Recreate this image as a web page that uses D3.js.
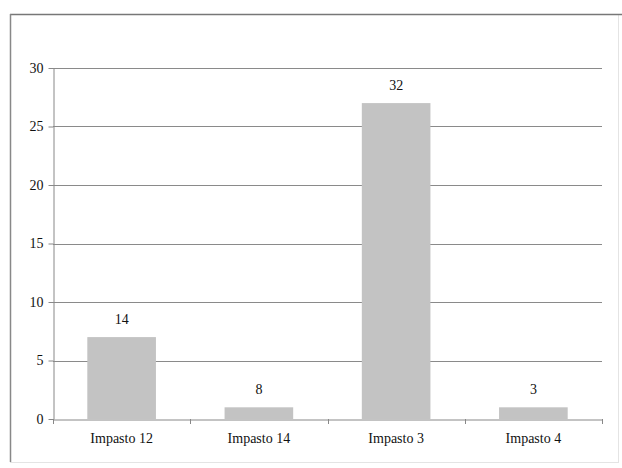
<!DOCTYPE html>
<html>
<head>
<meta charset="utf-8">
<script src="https://cdn.jsdelivr.net/npm/d3@7"></script>
<style>
  body { margin: 0; background: #fff; }
  text { font-family: "Liberation Serif", "Times New Roman", serif; fill: #111; }
</style>
</head>
<body>
<div id="chart"></div>
<script>
var categories = ["Impasto 12", "Impasto 14", "Impasto 3", "Impasto 4"];
var barValues = [7, 1, 27, 1];
var barLabels = ["14", "8", "32", "3"];
var yTicks = [0, 5, 10, 15, 20, 25, 30];

var W = 622, H = 468;
var margin = {top: 68, right: 20, bottom: 50, left: 53},
    width = 602 - margin.left,
    height = 419 - margin.top;

var root = d3.select("#chart")
  .append("svg")
    .attr("width", W)
    .attr("height", H);

// outer frame
root.append("rect")
  .attr("x", 10.5).attr("y", 14.5)
  .attr("width", 608).attr("height", 448)
  .attr("fill", "none").attr("stroke", "#e4e4e4");
root.append("line")
  .attr("x1", 10).attr("x2", W).attr("y1", 14.5).attr("y2", 14.5)
  .attr("stroke", "#777").attr("stroke-width", 1.5);
root.append("line")
  .attr("x1", 10.5).attr("x2", 10.5).attr("y1", 14).attr("y2", 462)
  .attr("stroke", "#888").attr("stroke-width", 1.5);

var svg = root.append("g")
  .attr("transform", "translate(" + margin.left + "," + margin.top + ")");

var x = d3.scaleBand()
  .domain(categories)
  .range([0, width])
  .paddingInner(0.5)
  .paddingOuter(0.25);

var y = d3.scaleLinear()
  .domain([0, 30])
  .range([height, 0]);

// gridlines
svg.append("g")
  .selectAll("line")
  .data(yTicks.filter(function(d) { return d > 0; }))
  .enter()
  .append("line")
    .attr("x1", 0).attr("x2", width)
    .attr("y1", function(d) { return Math.round(y(d)) + 0.5; })
    .attr("y2", function(d) { return Math.round(y(d)) + 0.5; })
    .attr("stroke", "#8a8a8a");

// bars
svg.append("g")
  .selectAll("rect")
  .data(barValues)
  .enter()
  .append("rect")
    .attr("x", function(d, i) { return x(categories[i]); })
    .attr("y", function(d) { return y(d); })
    .attr("width", x.bandwidth())
    .attr("height", function(d) { return height - y(d); })
    .attr("fill", "#c3c3c3");

// value labels
svg.append("g")
  .selectAll("text")
  .data(barValues)
  .enter()
  .append("text")
    .attr("x", function(d, i) { return x(categories[i]) + x.bandwidth() / 2; })
    .attr("y", function(d) { return y(d) - 13; })
    .attr("text-anchor", "middle")
    .style("font-size", "14px")
    .text(function(d, i) { return barLabels[i]; });

// y axis
var yAxis = svg.append("g")
  .attr("transform", "translate(0.5,0)")
  .call(d3.axisLeft(y).tickValues(yTicks).tickSize(5).tickSizeOuter(0));
yAxis.select(".domain").attr("stroke", "#888");
yAxis.selectAll(".tick line").attr("stroke", "#888");
yAxis.selectAll(".tick text")
  .attr("x", -10)
  .style("font-family", "Liberation Serif, serif")
  .style("font-size", "14px")
  .attr("fill", "#111");

// x axis
var xAxis = svg.append("g")
  .attr("transform", "translate(0," + (height + 0.5) + ")")
  .call(d3.axisBottom(x).tickSize(0).tickSizeOuter(0));
xAxis.select(".domain").attr("stroke", "#888");
xAxis.selectAll(".tick text")
  .attr("y", 14)
  .style("font-family", "Liberation Serif, serif")
  .style("font-size", "14px")
  .attr("fill", "#111");

// category boundary ticks
var step = x.step();
var bounds = d3.range(categories.length + 1).map(function(i) { return x(categories[0]) - x.bandwidth() / 2 + i * step; });
svg.append("g")
  .selectAll("line")
  .data(bounds)
  .enter()
  .append("line")
    .attr("x1", function(d) { return Math.round(d) + 0.5; })
    .attr("x2", function(d) { return Math.round(d) + 0.5; })
    .attr("y1", height)
    .attr("y2", height + 5)
    .attr("stroke", "#888");
</script>
</body>
</html>
